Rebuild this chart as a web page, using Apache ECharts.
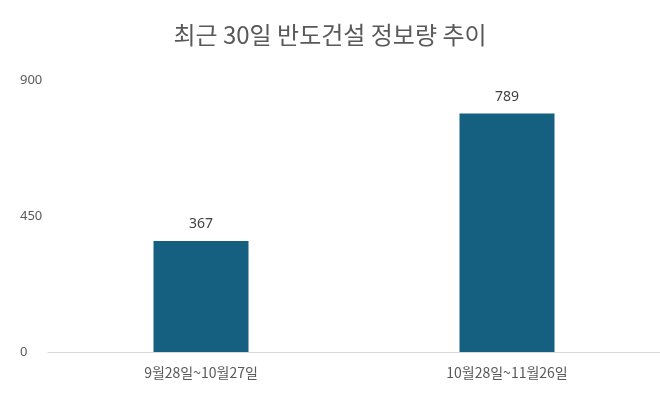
<!DOCTYPE html>
<html><head><meta charset="utf-8">
<script src="https://cdn.jsdelivr.net/npm/echarts@6/dist/echarts.min.js"></script>
<style>html,body{margin:0;padding:0;background:#fff}#c{width:660px;height:403px}</style>
</head><body><div id="c"></div>
<script>
const categories = ['9월28일~10월27일', '10월28일~11월26일'];
const values = [367, 789];
const yTicks = [0, 450, 900];
const chart = echarts.init(document.getElementById('c'));
chart.setOption({
  animation: false,
  title: { text: '최근 30일 반도건설 정보량 추이', left: 'center', top: 18,
    textStyle: { fontFamily: 'Noto Sans CJK KR', fontSize: 24, fontWeight: 'normal', color: '#595959' } },
  grid: { left: 48, right: 0, top: 80, bottom: 51 },
  xAxis: { type: 'category', data: categories,
    axisLine: { lineStyle: { color: '#d9d9d9' } }, axisTick: { show: false },
    axisLabel: { color: '#595959', fontSize: 14, margin: 14, fontFamily: 'Noto Sans CJK KR' } },
  yAxis: { type: 'value', min: yTicks[0], max: yTicks[2], interval: 450,
    splitLine: { show: false },
    axisLabel: { color: '#595959', fontSize: 13, margin: 28, align: 'left', fontFamily: 'Noto Sans' } },
  series: [{ type: 'bar', data: values, barWidth: 95,
    itemStyle: { color: '#155f80' },
    label: { show: true, position: 'top', distance: 10, color: '#404040', fontSize: 14, fontFamily: 'Noto Sans' } }]
});
</script></body></html>
